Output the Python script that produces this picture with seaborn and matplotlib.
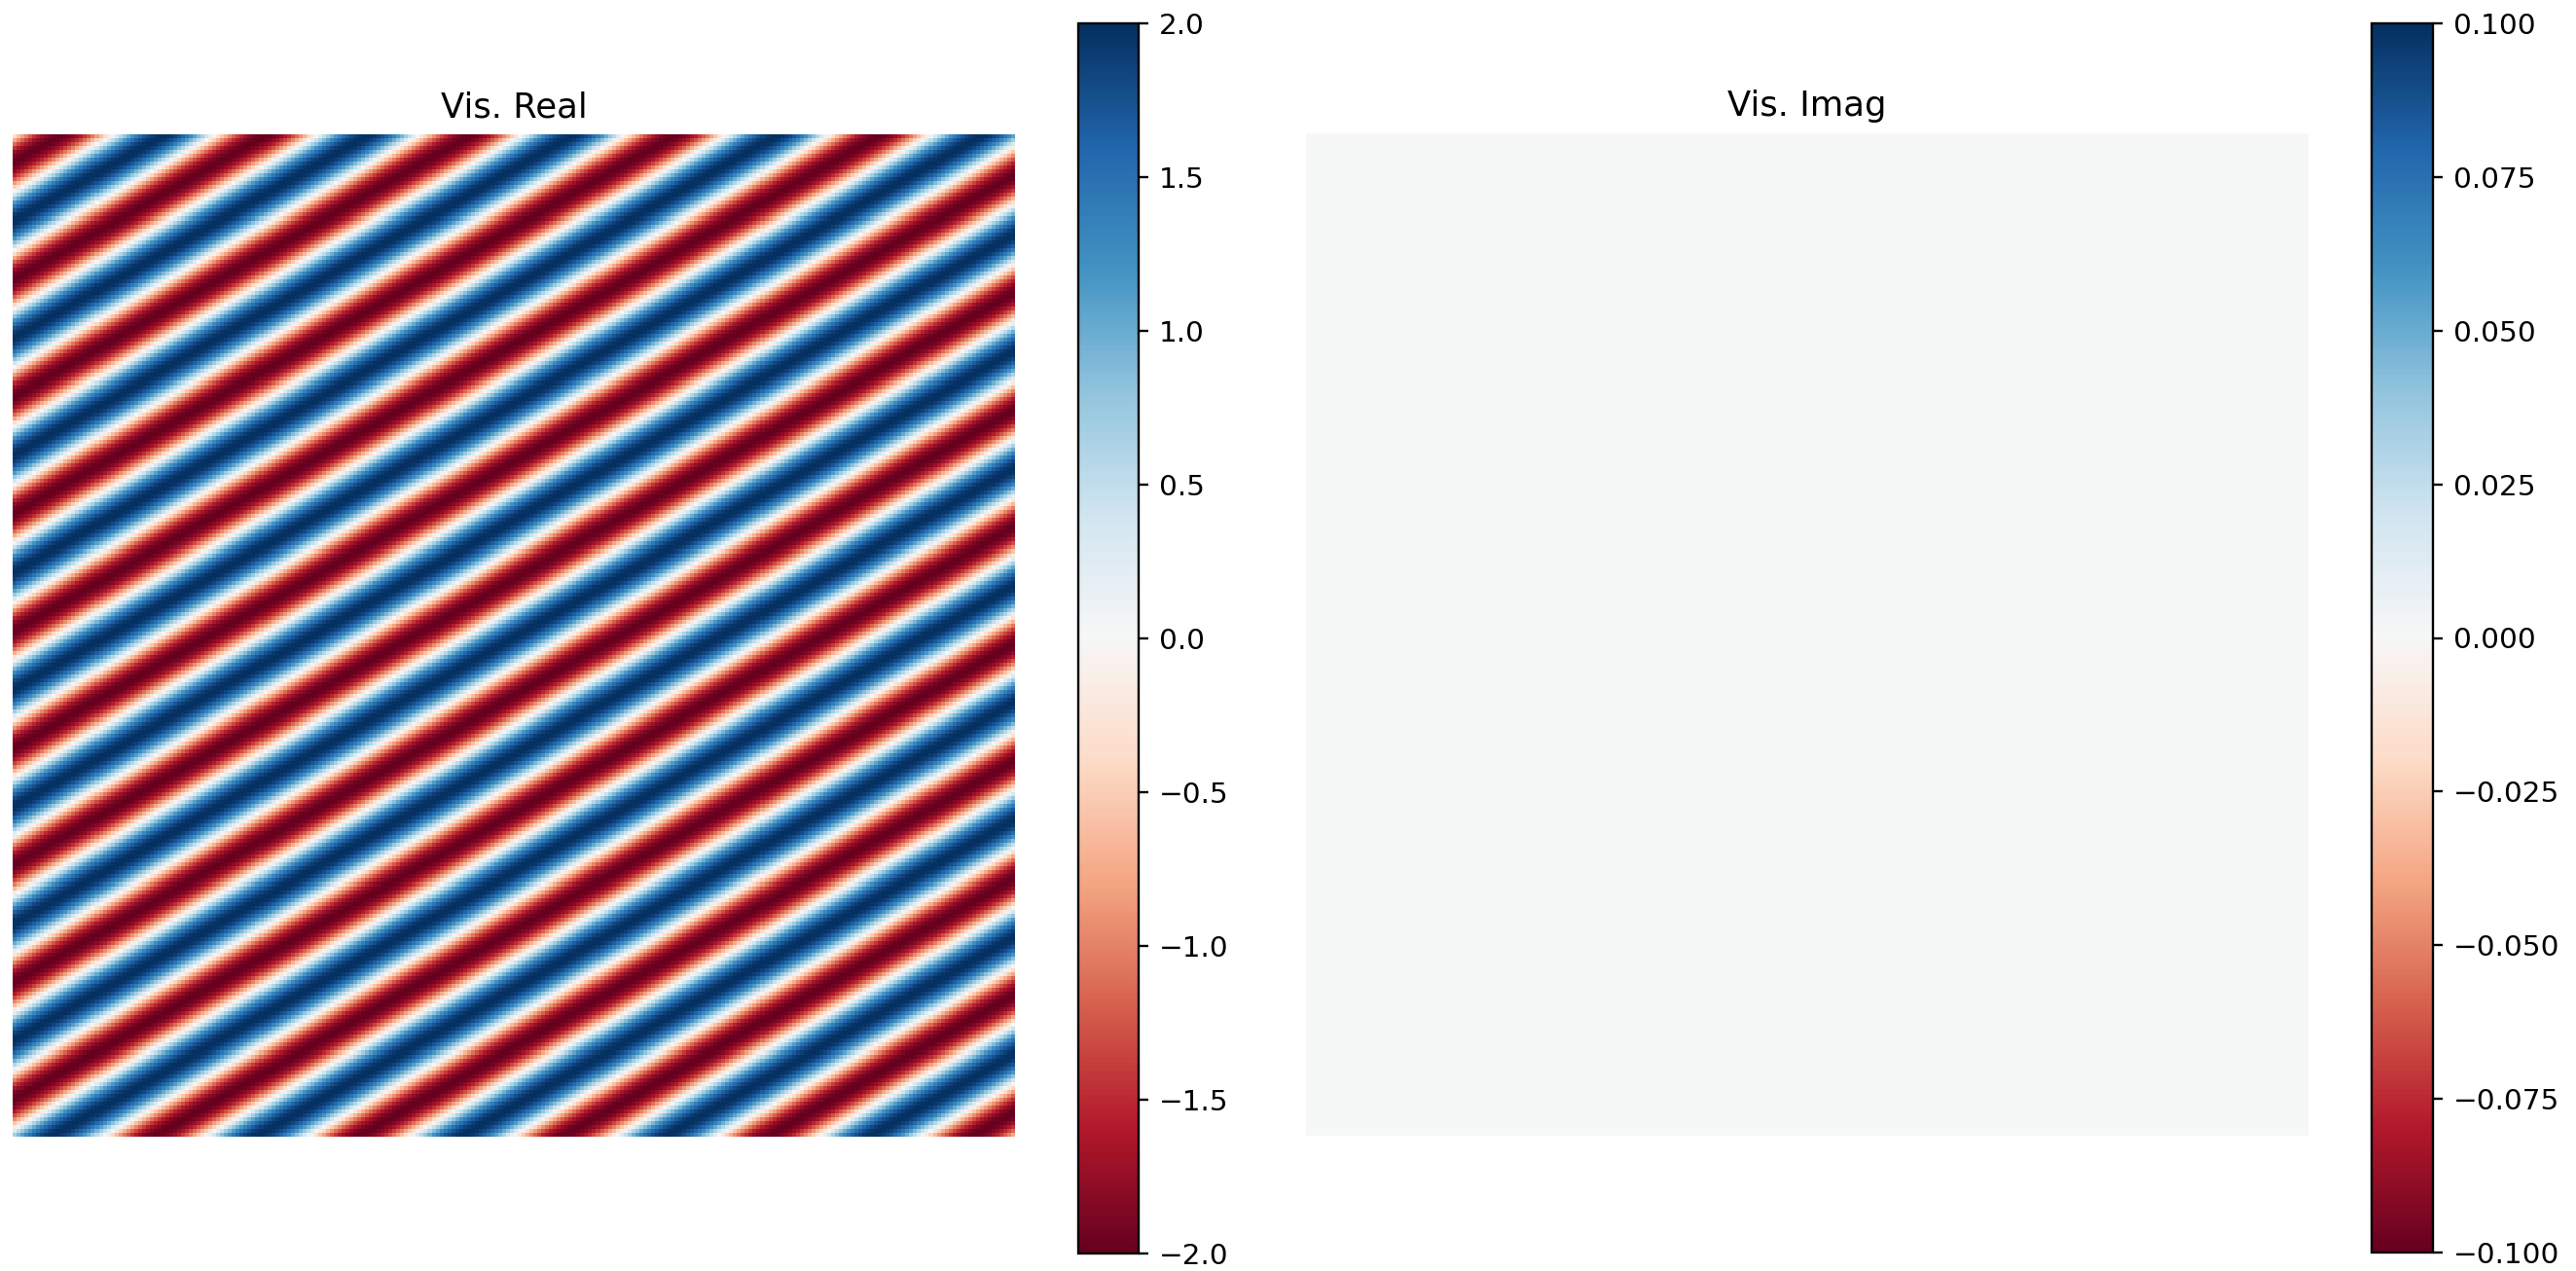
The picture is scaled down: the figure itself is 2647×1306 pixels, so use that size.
import numpy as np
import seaborn as sns
import matplotlib.pyplot as plt

# visibility grid
grid_size = 256
amplitude = 2.0
cycles_x = 4.9      # fringe cycles across the image width
cycles_y = 8.56     # fringe cycles across the image height
phase0 = 1.75       # phase at the top-left corner (rad)

real_ticks = [-2.0, -1.5, -1.0, -0.5, 0.0, 0.5, 1.0, 1.5, 2.0]
imag_ticks = [-0.100, -0.075, -0.050, -0.025, 0.0, 0.025, 0.050, 0.075, 0.100]

cols = np.arange(grid_size) / grid_size
rows = np.arange(grid_size) / grid_size
phase = 2 * np.pi * (cycles_x * cols[None, :] + cycles_y * rows[:, None]) + phase0
vis_real = amplitude * np.cos(phase)
vis_imag = np.zeros((grid_size, grid_size))

W, H, dpi = 2647, 1306, 212
fig = plt.figure(figsize=(W / dpi, H / dpi), dpi=dpi)


def box(x0, y0, x1, y1):
    return [x0 / W, (H - y1) / H, (x1 - x0) / W, (y1 - y0) / H]


ax1 = fig.add_axes(box(13, 138, 1043, 1168))
cax1 = fig.add_axes(box(1108, 24, 1170, 1288))
ax2 = fig.add_axes(box(1342, 137, 2372, 1167))
cax2 = fig.add_axes(box(2437, 24, 2500, 1287))

sns.heatmap(vis_real, ax=ax1, cbar_ax=cax1, cmap="RdBu", vmin=-2, vmax=2,
            xticklabels=False, yticklabels=False, square=True,
            cbar_kws={"ticks": real_ticks})
sns.heatmap(vis_imag, ax=ax2, cbar_ax=cax2, cmap="RdBu", vmin=-0.1, vmax=0.1,
            xticklabels=False, yticklabels=False, square=True,
            cbar_kws={"ticks": imag_ticks})

for ax, title in [(ax1, "Vis. Real"), (ax2, "Vis. Imag")]:
    ax.set_title(title)
    ax.set_axis_off()
    cb = ax.collections[0].colorbar
    cb.outline.set_linewidth(0.8)
    cb.outline.set_edgecolor("black")

fig.savefig("out.png", dpi=dpi)
